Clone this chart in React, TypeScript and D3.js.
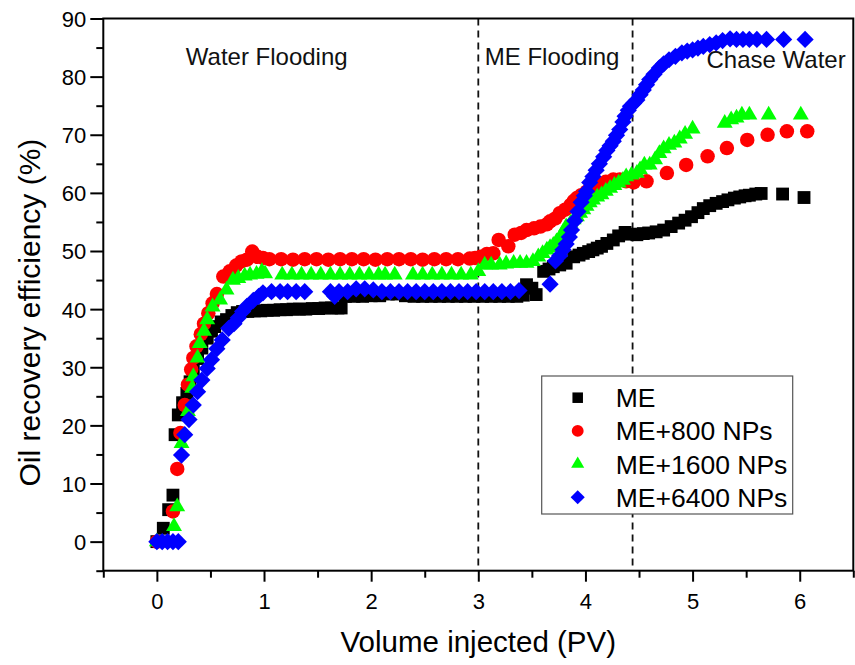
import React, { useRef, useEffect } from 'react';
import * as d3 from 'd3';

// series: [PV injected, recovery %]
const meData: [number, number][] = [
  [0, 0], [0.06, 2.3], [0.11, 5.5], [0.15, 8], [0.17, 18.4], [0.2, 21.8], [0.24, 23.9], [0.28, 25.5],
  [0.31, 27.5], [0.34, 29.5], [0.38, 31.5], [0.42, 33.3], [0.47, 35], [0.51, 36.2], [0.54, 37], [0.6, 37.8],
  [0.65, 38.2], [0.7, 38.9], [0.75, 39.4], [0.8, 39.6], [0.85, 39.6], [0.91, 39.7], [0.97, 39.7], [1.03, 39.8],
  [1.09, 39.8], [1.15, 39.9], [1.21, 39.9], [1.27, 40], [1.33, 40], [1.39, 40], [1.45, 40.1], [1.51, 40.1],
  [1.57, 40.2], [1.63, 40.2], [1.69, 40.2], [1.72, 40.2], [1.76, 42.2], [1.84, 42.2], [1.92, 42.2], [2.0, 42.3],
  [2.08, 42.3], [2.16, 42.6], [2.24, 42.6], [2.32, 42.3], [2.4, 42.2], [2.48, 42.2], [2.56, 42.2], [2.64, 42.2],
  [2.72, 42.2], [2.8, 42.2], [2.88, 42.2], [2.96, 42.2], [3.04, 42.2], [3.12, 42.2], [3.2, 42.2], [3.28, 42.2],
  [3.36, 42.2], [3.42, 42.4], [3.45, 44.2], [3.5, 43.6], [3.54, 42.5], [3.61, 46.5], [3.66, 46.9], [3.7, 47.3],
  [3.76, 47.6], [3.82, 47.9], [3.89, 49], [3.94, 49.3], [3.98, 49.6], [4.03, 49.9], [4.07, 50.2], [4.11, 50.5],
  [4.15, 50.8], [4.2, 51.3], [4.26, 51.9], [4.31, 52.6], [4.37, 53.2], [4.42, 52.9], [4.48, 52.8], [4.54, 53],
  [4.59, 53.1], [4.66, 53.3], [4.73, 53.6], [4.8, 54.2], [4.87, 54.8], [4.93, 55.3], [4.99, 55.9], [5.05, 56.6],
  [5.1, 57.3], [5.16, 57.8], [5.22, 58.2], [5.28, 58.5], [5.33, 58.8], [5.39, 59.1], [5.44, 59.3], [5.49, 59.5],
  [5.53, 59.6], [5.59, 59.8], [5.64, 59.9], [5.84, 59.8], [6.04, 59.2],
];

const np800Data: [number, number][] = [
  [0, 0], [0.15, 5.2], [0.19, 12.5], [0.22, 18.7], [0.26, 23.5], [0.29, 27], [0.32, 29.6], [0.34, 31.6],
  [0.37, 33.6], [0.41, 35.7], [0.44, 37.5], [0.48, 39.3], [0.52, 41], [0.56, 42.6], [0.62, 45.6], [0.68, 46.5],
  [0.74, 47.5], [0.79, 48.2], [0.84, 48.5], [0.89, 49.9], [0.94, 49], [0.99, 48.8], [1.05, 48.6], [1.16, 48.6],
  [1.27, 48.5], [1.38, 48.6], [1.49, 48.6], [1.6, 48.5], [1.71, 48.6], [1.82, 48.6], [1.93, 48.6], [2.04, 48.5],
  [2.15, 48.6], [2.26, 48.6], [2.37, 48.6], [2.48, 48.5], [2.59, 48.6], [2.7, 48.6], [2.81, 48.6], [2.92, 48.7],
  [2.97, 48.8], [3.02, 49], [3.08, 49.5], [3.14, 49.6], [3.19, 51.9], [3.28, 50.8], [3.34, 52.8], [3.4, 53.1],
  [3.45, 53.6], [3.52, 53.9], [3.58, 54.2], [3.64, 54.6], [3.67, 55.1], [3.72, 55.6], [3.76, 56.5], [3.81, 57.1],
  [3.86, 57.9], [3.89, 58.6], [3.92, 59.1], [3.96, 59.6], [4.01, 60.2], [4.07, 60.8], [4.13, 61.4], [4.19, 61.9],
  [4.26, 62.3], [4.32, 62.3], [4.38, 62], [4.45, 61.8], [4.57, 62], [4.76, 63.4], [4.94, 64.8], [5.14, 66.3],
  [5.32, 67.7], [5.51, 69.1], [5.7, 70], [5.88, 70.6], [6.07, 70.6],
];

const np1600Data: [number, number][] = [
  [0, 0], [0.16, 2.6], [0.19, 6], [0.23, 16.9], [0.29, 22.4], [0.33, 26.4], [0.34, 28.4], [0.38, 31.6],
  [0.4, 34.1], [0.44, 36.2], [0.47, 38.2], [0.52, 40.4], [0.59, 41.6], [0.65, 43.3], [0.71, 45], [0.76, 45.3],
  [0.82, 45.7], [0.87, 45.9], [0.93, 46], [0.98, 46.5], [1.01, 46.1], [1.17, 45.9], [1.26, 45.9], [1.35, 45.9],
  [1.44, 45.9], [1.53, 45.9], [1.62, 45.9], [1.71, 45.9], [1.8, 45.9], [1.89, 45.9], [1.98, 45.9], [2.07, 45.9],
  [2.13, 45.9], [2.22, 45.9], [2.39, 45.9], [2.48, 45.9], [2.57, 45.9], [2.66, 45.9], [2.75, 45.9], [2.84, 45.9],
  [2.93, 45.9], [3.0, 46.5], [3.06, 47.6], [3.12, 47.6], [3.2, 47.6], [3.26, 47.8], [3.33, 47.9], [3.39, 47.9],
  [3.45, 47.9], [3.51, 48.2], [3.56, 49], [3.6, 49.6], [3.64, 50.2], [3.67, 50.6], [3.7, 51], [3.73, 51.6],
  [3.76, 52.2], [3.79, 53.2], [3.82, 54.2], [3.86, 54.8], [3.89, 55.4], [3.92, 55.9], [3.95, 56.5], [3.98, 57.1],
  [4.01, 57.7], [4.04, 58.3], [4.07, 58.8], [4.11, 59.3], [4.15, 59.7], [4.19, 60.3], [4.23, 60.8], [4.27, 61.3],
  [4.31, 61.7], [4.35, 62.2], [4.38, 62.8], [4.43, 63.1], [4.48, 63.4], [4.51, 64], [4.55, 64.8], [4.6, 64.8],
  [4.65, 65.7], [4.69, 66.8], [4.73, 67.6], [4.78, 68.2], [4.83, 68.6], [4.88, 69.3], [4.93, 70.1], [5.0, 71],
  [5.3, 72], [5.36, 72.6], [5.41, 72.9], [5.46, 73.4], [5.53, 73.4], [5.71, 73.4], [6.01, 73.4],
];

const np6400Data: [number, number][] = [
  [0, 0], [0.05, 0], [0.1, 0], [0.15, 0], [0.2, 0], [0.23, 14.9], [0.26, 18.4], [0.3, 21], [0.34, 23.5],
  [0.38, 25.8], [0.42, 27.8], [0.47, 29.8], [0.51, 31.3], [0.56, 33.2], [0.61, 34.7], [0.67, 36.7], [0.72, 37.5],
  [0.76, 38.5], [0.8, 39.6], [0.84, 40.5], [0.9, 41.5], [0.95, 42.2], [0.99, 42.8], [1.07, 43], [1.15, 43],
  [1.22, 43], [1.3, 43], [1.38, 43], [1.62, 43], [1.66, 42.2], [1.7, 43], [1.78, 43], [1.86, 43.5], [1.94, 43.5],
  [2.02, 43.3], [2.1, 43], [2.18, 43], [2.26, 43], [2.34, 43], [2.42, 43], [2.5, 43], [2.58, 43], [2.66, 43],
  [2.74, 43], [2.82, 43], [2.9, 43], [2.98, 43], [3.06, 43], [3.14, 43], [3.22, 43], [3.3, 43], [3.38, 43.2],
  [3.67, 44.3], [3.72, 48.3], [3.76, 49.2], [3.79, 50.2], [3.82, 51.2], [3.85, 52.4], [3.87, 53.6], [3.9, 55.2],
  [3.93, 56.8], [3.96, 58.4], [3.99, 59.5], [4.01, 60.3], [4.04, 61.8], [4.07, 62.8], [4.1, 63.9], [4.13, 65],
  [4.17, 66.2], [4.2, 67.3], [4.23, 68.1], [4.26, 68.9], [4.29, 69.9], [4.32, 70.9], [4.35, 72.2], [4.37, 73.2],
  [4.4, 74.2], [4.42, 74.9], [4.45, 75.4], [4.48, 76], [4.51, 76.9], [4.54, 77.7], [4.57, 78.6], [4.6, 79.5],
  [4.64, 80.4], [4.69, 81.5], [4.73, 82.2], [4.78, 82.9], [4.84, 83.5], [4.9, 84.1], [4.95, 84.4], [5.0, 84.6],
  [5.05, 84.9], [5.1, 85.2], [5.16, 85.5], [5.22, 85.8], [5.28, 86.2], [5.35, 86.5], [5.41, 86.4], [5.47, 86.4],
  [5.53, 86.4], [5.6, 86.4], [5.69, 86.4], [5.85, 86.4], [6.05, 86.4],
];

const seriesNames = ['ME', 'ME+800 NPs', 'ME+1600 NPs', 'ME+6400 NPs'];
const seriesColors = ['#000000', '#ff0000', '#00ff00', '#0000ff'];
const seriesShapes = ['square', 'circle', 'triangle', 'diamond'];

const xTicks = [0, 1, 2, 3, 4, 5, 6];
const yTicks = [0, 10, 20, 30, 40, 50, 60, 70, 80, 90];
const phaseBounds = [3.0, 4.44];
const phaseLabels = ['Water Flooding', 'ME Flooding', 'Chase Water'];
const phaseLabelAt: [number, number][] = [[0.27, 82], [3.06, 82], [5.13, 81.5]];

const FONT = '"Liberation Sans", Arial, sans-serif';

function symbolPath(shape: string, scale = 1) {
  if (shape === 'square') return d3.symbol(d3.symbolSquare, 165 * scale * scale)();
  if (shape === 'circle') return d3.symbol(d3.symbolCircle, 165 * scale * scale)();
  if (shape === 'triangle') return d3.symbol(d3.symbolTriangle, 110 * scale * scale)();
  const r = 8.6 * scale;
  return `M0,${-r}L${r},0L0,${r}L${-r},0Z`;
}

function App() {
  const svgRef = useRef<SVGSVGElement>(null);

  useEffect(() => {
    const width = 855;
    const height = 665;
    const m = { left: 103.3, right: 853.3, top: 18.5, bottom: 570.7 };

    const x = d3.scaleLinear().domain([-0.5, 6.5]).range([m.left, m.right]);
    const y = d3.scaleLinear().domain([-5, 90]).range([m.bottom, m.top]);

    const svg = d3.select(svgRef.current)
      .attr('viewBox', [0, 0, width, height])
      .style('font-family', FONT);
    svg.selectAll('*').remove();

    svg.append('rect').attr('width', width).attr('height', height).attr('fill', '#fff');

    // phase separators
    svg.append('g').selectAll('line')
      .data(phaseBounds)
      .join('line')
        .attr('x1', d => x(d)).attr('x2', d => x(d))
        .attr('y1', m.top).attr('y2', m.bottom)
        .attr('stroke', '#111')
        .attr('stroke-width', 1.8)
        .attr('stroke-dasharray', '7,5');

    svg.append('g').selectAll('text')
      .data(phaseLabels)
      .join('text')
        .attr('x', (d, i) => x(phaseLabelAt[i][0]))
        .attr('y', (d, i) => y(phaseLabelAt[i][1]))
        .attr('font-size', 24)
        .attr('fill', '#111')
        .text(d => d);

    // x axis
    const xAxis = d3.axisBottom(x)
      .tickValues(d3.range(-0.5, 6.51, 0.5))
      .tickSize(6)
      .tickFormat(() => '');
    const gx = svg.append('g').attr('transform', `translate(0,${m.bottom})`).call(xAxis);
    gx.selectAll('line').attr('stroke', '#000').attr('stroke-width', 2)
      .attr('y2', (d: any) => (Number.isInteger(d) ? 11 : 7));
    gx.select('.domain').remove();
    gx.selectAll('.tick')
      .filter((d: any) => xTicks.includes(d))
      .append('text')
        .attr('y', 38).attr('fill', '#000')
        .attr('font-size', 22).attr('font-family', FONT)
        .attr('text-anchor', 'middle')
        .text((d: any) => d);

    // y axis
    const yAxis = d3.axisLeft(y)
      .tickValues(d3.range(-5, 90.1, 5))
      .tickFormat(() => '');
    const gy = svg.append('g').attr('transform', `translate(${m.left},0)`).call(yAxis);
    gy.selectAll('line').attr('stroke', '#000').attr('stroke-width', 2)
      .attr('x2', (d: any) => (d % 10 === 0 ? -13 : -7));
    gy.select('.domain').remove();
    gy.selectAll('.tick')
      .filter((d: any) => yTicks.includes(d))
      .append('text')
        .attr('x', -17).attr('dy', '0.36em').attr('fill', '#000')
        .attr('font-size', 22).attr('font-family', FONT)
        .attr('text-anchor', 'end')
        .text((d: any) => d);

    // frame
    svg.append('rect')
      .attr('x', m.left).attr('y', m.top)
      .attr('width', m.right - m.left).attr('height', m.bottom - m.top)
      .attr('fill', 'none').attr('stroke', '#000').attr('stroke-width', 2);

    // markers
    const allData = [meData, np800Data, np1600Data, np6400Data];
    allData.forEach((data, i) => {
      svg.append('g').selectAll('path')
        .data(data)
        .join('path')
          .attr('d', symbolPath(seriesShapes[i]))
          .attr('transform', d => `translate(${x(d[0])},${y(d[1])})`)
          .attr('fill', seriesColors[i]);
    });

    // legend
    const lg = svg.append('g').attr('transform', 'translate(541.7,376)');
    lg.append('rect').attr('width', 251).attr('height', 138)
      .attr('fill', '#fff').attr('stroke', '#555').attr('stroke-width', 1.2);
    const row = lg.selectAll('g.row')
      .data(seriesNames)
      .join('g')
        .attr('class', 'row')
        .attr('transform', (d, i) => `translate(0,${21.7 + i * 33.2})`);
    row.append('path')
      .attr('d', (d, i) => symbolPath(seriesShapes[i], 0.82))
      .attr('transform', 'translate(36,0)')
      .attr('fill', (d, i) => seriesColors[i]);
    row.append('text')
      .attr('x', 74).attr('dy', '0.36em')
      .attr('font-size', 26.5).attr('fill', '#000')
      .text(d => d);

    // axis titles
    svg.append('text')
      .attr('x', (m.left + m.right) / 2).attr('y', 652)
      .attr('text-anchor', 'middle').attr('font-size', 29.5)
      .text('Volume injected (PV)');
    svg.append('text')
      .attr('transform', `translate(40,${(m.top + m.bottom) / 2 + 18}) rotate(-90)`)
      .attr('text-anchor', 'middle').attr('font-size', 30)
      .text('Oil recovery efficiency (%)');
  }, []);

  return (
    <svg
      ref={svgRef}
      width={855}
      height={665}
      style={{ position: 'absolute', left: 0, top: 0, display: 'block' }}
    />
  );
}

export default App;
